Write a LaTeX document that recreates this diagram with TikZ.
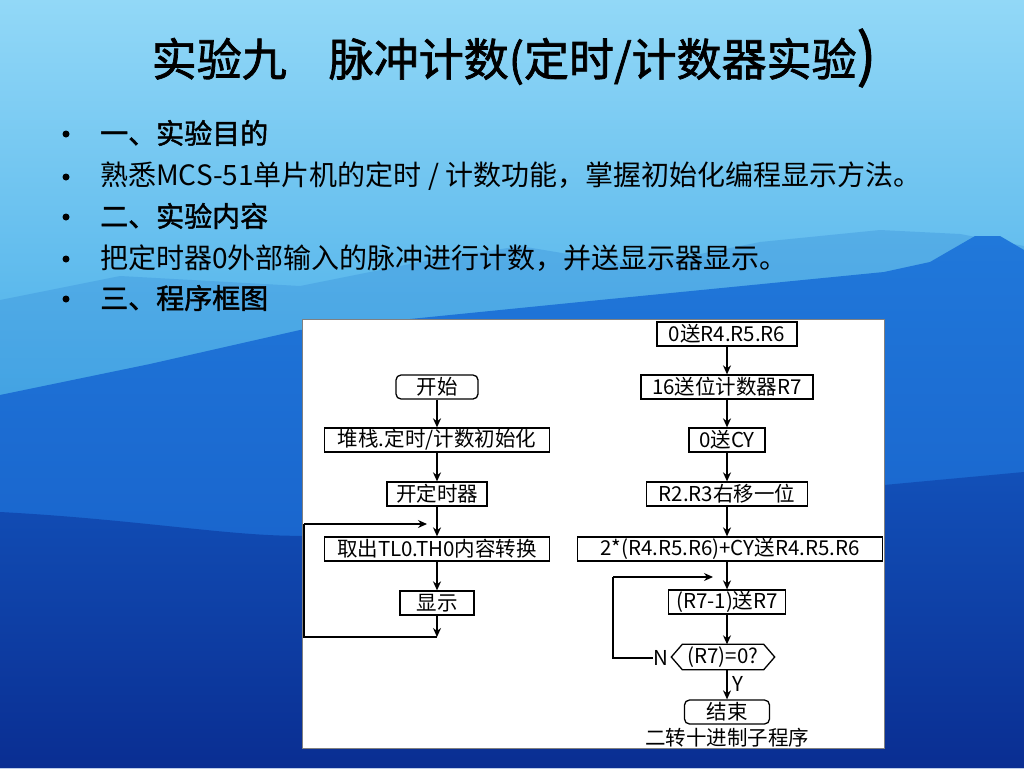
\documentclass[tikz,border=0pt]{standalone}
\usepackage{fontspec}
\setmainfont{Noto Sans CJK SC}
\newfontfamily\heavy[FakeBold=1.6]{Noto Sans CJK SC}
\usetikzlibrary{arrows.meta}

\definecolor{skytop}{HTML}{92D8F7}
\definecolor{skylow}{HTML}{45ACE8}
\definecolor{ridge}{HTML}{3B93DC}
\definecolor{midtop}{HTML}{2078DA}
\definecolor{midlow}{HTML}{1558C4}
\definecolor{dktop}{HTML}{1250B8}
\definecolor{dklow}{HTML}{0A2E92}

\tikzset{
  chart/.style = {font=\fontsize{20.5}{20.5}\selectfont, inner sep=1pt},
  box/.style = {chart, draw, line width=1.3pt, minimum height=24pt},
  term/.style = {box, rounded corners=5pt},
  flow/.style = {line width=1.3pt, -{Stealth[length=9pt, width=8pt]}},
  line/.style = {line width=1.3pt},
  bullet/.style = {font=\fontsize{28}{28}\selectfont, anchor=west, inner sep=0pt},
  dot/.style = {fill, circle, inner sep=0, minimum size=7}
}

\begin{document}
\begin{tikzpicture}[x=1pt, y=-1pt]
  \useasboundingbox (0, 0) rectangle (1024, 768);

  % background
  \shade [top color=skytop, bottom color=skylow] (0, 0) rectangle (1024, 420);
  \fill [ridge, opacity=0.4] (0, 300) -- (120, 276) -- (300, 286) -- (420, 262) -- (520, 246)
    -- (640, 266) -- (760, 242) -- (880, 230) -- (960, 234) -- (1024, 246)
    -- (1024, 768) -- (0, 768) -- cycle;
  \shade [top color=midtop, bottom color=midlow] (0, 395) -- (150, 364) -- (300, 330)
    -- (600, 300) -- (884, 272) -- (930, 262) -- (975, 236) -- (1000, 236) -- (1024, 250)
    -- (1024, 768) -- (0, 768) -- cycle;
  \shade [top color=dktop, bottom color=dklow] (0, 512)
    .. controls (150, 520) and (250, 540) .. (320, 535) -- (884, 485) -- (1024, 472)
    -- (1024, 768) -- (0, 768) -- cycle;

  % title and list
  \node (title) at (514, 58) {\heavy\fontsize{45}{45}\selectfont
    实验九\hspace{42pt}脉冲计数(定时/计数器实验{\fontsize{58}{58}\selectfont)}};

  \node [bullet] (b1) at (100, 133) {\heavy 一、实验目的};
  \node [bullet] (b2) at (100, 176) {熟悉MCS-51单片机的定时 / 计数功能，掌握初始化编程显示方法。};
  \node [bullet] (b3) at (100, 216) {\heavy 二、实验内容};
  \node [bullet] (b4) at (100, 258) {把定时器0外部输入的脉冲进行计数，并送显示器显示。};
  \node [bullet] (b5) at (100, 298) {\heavy 三、程序框图};
  \foreach \y in {134, 177, 217, 259, 299}
    \node [dot] at (66, \y) {};

  % panel
  \fill [white] (302, 319) rectangle (884, 748);
  \draw [gray, line width=0.6] (302, 319) rectangle (884, 748);

  % main program
  \node [term, minimum width=82] (start) at (437, 387) {开始};
  \node [box, minimum width=225] (init) at (437, 440) {堆栈.定时/计数初始化};
  \node [box, minimum width=100] (run) at (437, 494) {开定时器};
  \node [box, minimum width=225] (fetch) at (437, 549) {取出TL0.TH0内容转换};
  \node [box, minimum width=74] (show) at (437, 603) {显示};

  \coordinate (jin) at (437, 524);
  \coordinate (jout) at (437, 637);
  \coordinate (ltop) at (304, 524);
  \coordinate (lbot) at (304, 637);

  \draw [flow] (start) -- (init);
  \draw [flow] (init) -- (run);
  \draw [flow] (run) -- (fetch);
  \draw [flow] (fetch) -- (show);
  \draw [flow] (show) -- (jout);
  \draw [line] (jout) -- (lbot) -- (ltop);
  \draw [flow] (ltop) -- ([xshift=-10]jin);

  % conversion subroutine
  \node [box, minimum width=140] (clr) at (727, 334) {0送R4.R5.R6};
  \node [box, minimum width=172] (cnt) at (727, 387) {16送位计数器R7};
  \node [box, minimum width=76] (cy) at (727, 440) {0送CY};
  \node [box, minimum width=161] (shift) at (727, 494) {R2.R3右移一位};
  \node [box, minimum width=305] (add) at (730, 549) {2*(R4.R5.R6)+CY送R4.R5.R6};
  \node [box, minimum width=117] (dec) at (727, 602) {(R7-1)送R7};
  \node [chart, minimum width=103, minimum height=25] (test) at (723, 657) {(R7)=0?};
  \draw [line] (test.west) -- ([xshift=11]test.north west) -- ([xshift=-11]test.north east)
    -- (test.east) -- ([xshift=-11]test.south east) -- ([xshift=11]test.south west) -- cycle;
  \node [term, minimum width=85] (stop) at (727, 712) {结束};
  \node [chart] (sub) at (727, 738) {二转十进制子程序};

  \coordinate (rin) at (727, 577);
  \coordinate (rtop) at (613, 577);
  \coordinate (rbot) at (613, 658);

  \draw [flow] (clr) -- (cnt);
  \draw [flow] (cnt) -- (cy);
  \draw [flow] (cy) -- (shift);
  \draw [flow] (shift.south) -- (shift.south |- add.north);
  \draw [flow] (shift.south |- add.south) -- (dec);
  \draw [flow] (dec.south) -- (dec.south |- test.north);
  \draw [flow] (dec.south |- test.south) -- (stop);

  \node [chart, anchor=east] (no) at (670, 658) {N};
  \node [chart, anchor=west] (yes) at (731, 684) {Y};
  \draw [line] (no) -- (rbot) -- (rtop);
  \draw [flow] (rtop) -- ([xshift=-14]rin);
\end{tikzpicture}
\end{document}
